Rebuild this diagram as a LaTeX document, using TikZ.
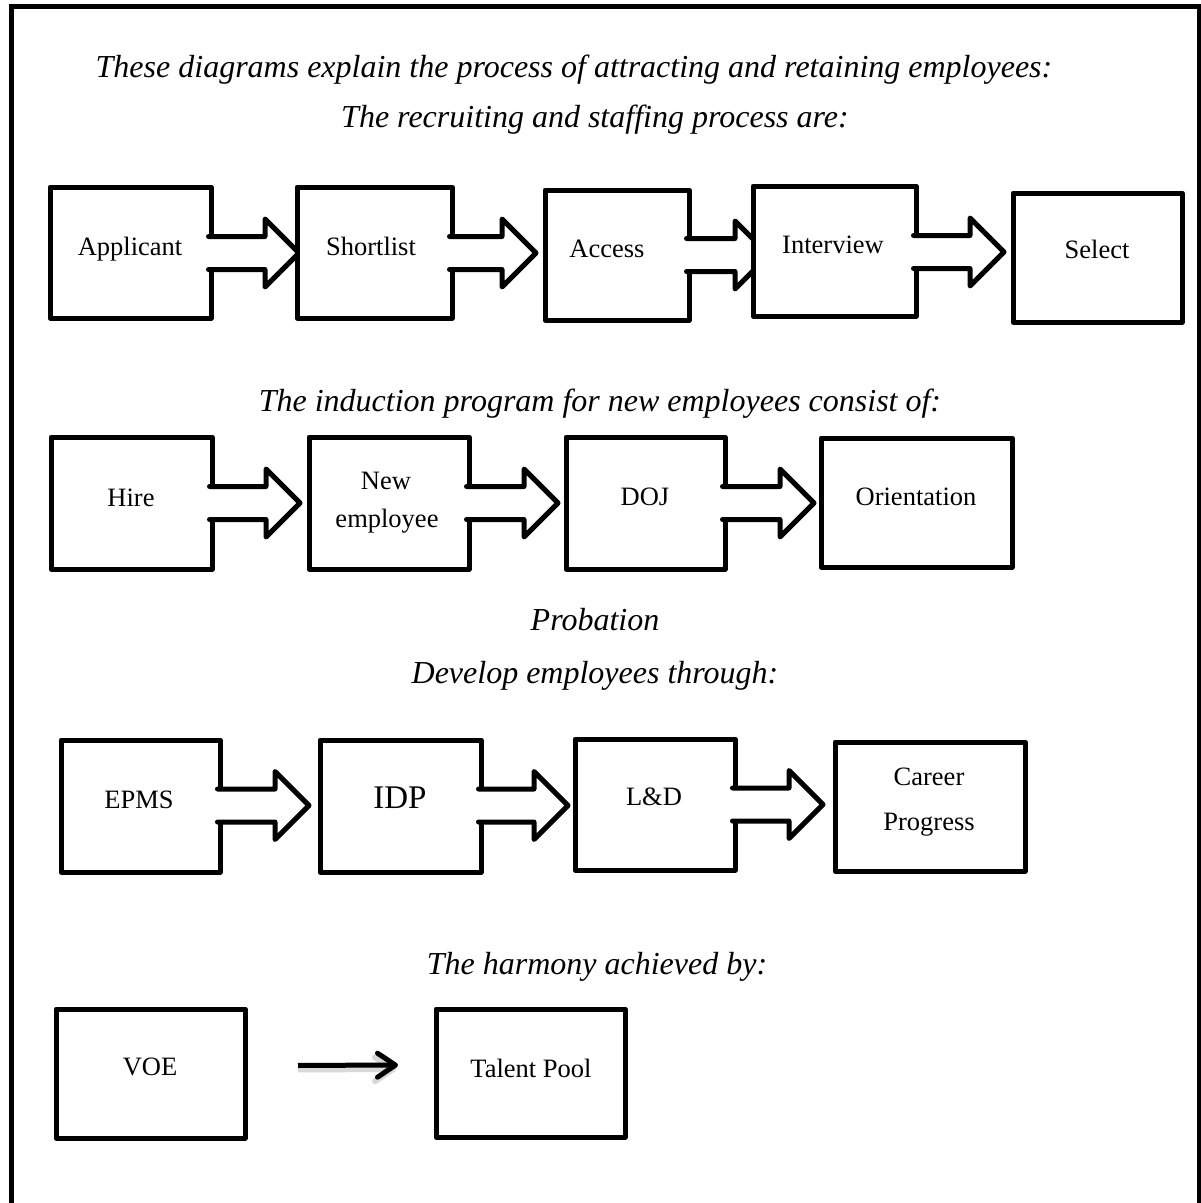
\documentclass[tikz,border=0pt]{standalone}
\usepackage{fontspec}
\setmainfont{Liberation Serif}
\usetikzlibrary{arrows.meta,fit}

% Block arrow leaving the right side of a box:
% #1 source box, #2 shaft centre (y), #3 x of the arrowhead base
\newcommand\blockarrow[3]{%
  \path[fill=white]
    ([xshift=-3pt]#1.east |- 0,{#2-16.5}) -- (#3,{#2-16.5}) -- (#3,{#2-34})
    -- ({#3+34},#2) -- (#3,{#2+34}) -- (#3,{#2+16.5})
    -- ([xshift=-3pt]#1.east |- 0,{#2+16.5}) -- cycle;
  \draw[arrowline]
    ([xshift=-2.5pt]#1.east |- 0,{#2-16.5}) -- (#3,{#2-16.5}) -- (#3,{#2-34})
    -- ({#3+34},#2) -- (#3,{#2+34}) -- (#3,{#2+16.5})
    -- ([xshift=-2.5pt]#1.east |- 0,{#2+16.5});
}

\begin{document}
\begin{tikzpicture}[x=1pt,y=-1pt,
  stepbox/.style={draw, line width=5pt, fill=white, inner sep=0pt, outer sep=0pt, line join=round},
  arrowline/.style={line width=5pt, line join=round, line cap=round},
  lbl/.style={font=\fontsize{26.5}{30}\selectfont, inner sep=0pt, anchor=base},
  biglbl/.style={font=\fontsize{33}{36}\selectfont, inner sep=0pt, anchor=base},
  heading/.style={font=\itshape\fontsize{32}{36}\selectfont, inner sep=0pt, anchor=base},
  frame/.style={line width=5pt}]

\useasboundingbox (0,0) rectangle (1201,1203);
\fill[white] (0,0) rectangle (1201,1203);

% page frame, open at the bottom
\draw[frame] (11,1203) -- (11,6.5) -- (1199,6.5) -- (1199,1203);

% headings
\node[heading] (intro) at (574,77) {These diagrams explain the process of attracting and retaining employees:};
\node[heading] (recruit) at (595,127) {The recruiting and staffing process are:};
\node[heading] (induct) at (600,411) {The induction program for new employees consist of:};
\node[heading] (prob) at (595,630) {Probation};
\node[heading] (develop) at (595,683) {Develop employees through:};
\node[heading] (harmony) at (597,974) {The harmony achieved by:};

% recruiting and staffing
\node[stepbox, fit={(50,187) (211,318)}] (app) {};
\blockarrow{app}{253}{265}
\node[stepbox, fit={(297,187) (452,318)}] (short) {};
\blockarrow{short}{253}{502}
\node[stepbox, fit={(545,190) (689,320)}] (acc) {};
\blockarrow{acc}{255}{735}
\node[stepbox, fit={(753,186) (916,316)}] (intv) {};
\blockarrow{intv}{252}{970}
\node[stepbox, fit={(1013,193) (1182,322)}] (sel) {};

\node[lbl] (appT) at (130,255) {Applicant};
\node[lbl] (shortT) at (371,255) {Shortlist};
\node[lbl] (accT) at (607,257) {Access};
\node[lbl] (intvT) at (833,253) {Interview};
\node[lbl] (selT) at (1097,258) {Select};

% induction
\node[stepbox, fit={(51,437) (212,569)}] (hire) {};
\blockarrow{hire}{503}{266}
\node[stepbox, fit={(309,437) (469,569)}] (newemp) {};
\blockarrow{newemp}{503}{524}
\node[stepbox, fit={(566,437) (725,569)}] (doj) {};
\blockarrow{doj}{503}{780}
\node[stepbox, fit={(821,438) (1012,567)}] (orient) {};

\node[lbl] (hireT) at (131,506) {Hire};
\node[lbl] (newT) at (386,489) {New};
\node[lbl] (empT) at (387,527) {employee};
\node[lbl] (dojT) at (645,505) {DOJ};
\node[lbl] (orientT) at (916,505) {Orientation};

% development
\node[stepbox, fit={(61,740) (220,872)}] (epms) {};
\blockarrow{epms}{805.5}{275}
\node[stepbox, fit={(320,740) (481,872)}] (idp) {};
\blockarrow{idp}{805.5}{534}
\node[stepbox, fit={(575,739) (735,870)}] (ld) {};
\blockarrow{ld}{804.5}{789}
\node[stepbox, fit={(835,742) (1025,871)}] (career) {};

\node[lbl] (epmsT) at (139,808) {EPMS};
\node[biglbl] (idpT) at (400,808) {IDP};
\node[lbl] (ldT) at (654,805) {L\&D};
\node[lbl] (careerT) at (929,785) {Career};
\node[lbl] (progT) at (929,830) {Progress};

% harmony
\node[stepbox, fit={(56,1009) (245,1138)}] (voe) {};
\node[stepbox, fit={(436,1009) (625,1137)}] (talent) {};
\node[lbl] (voeT) at (150,1075) {VOE};
\node[lbl] (talentT) at (531,1077) {Talent Pool};

\draw[black!30, opacity=.5, line width=6pt, shorten <=53pt, shorten >=40pt,
      -{Straight Barb[length=18pt,width=24pt,round]}]
  ([yshift=4pt]voe.east) -- ([yshift=4pt]talent.west);
\draw[line width=5pt, shorten <=53pt, shorten >=38pt,
      -{Straight Barb[length=18pt,width=24pt,round]}]
  ([yshift=8pt]voe.east) -- ([yshift=8pt]talent.west);

\end{tikzpicture}
\end{document}
